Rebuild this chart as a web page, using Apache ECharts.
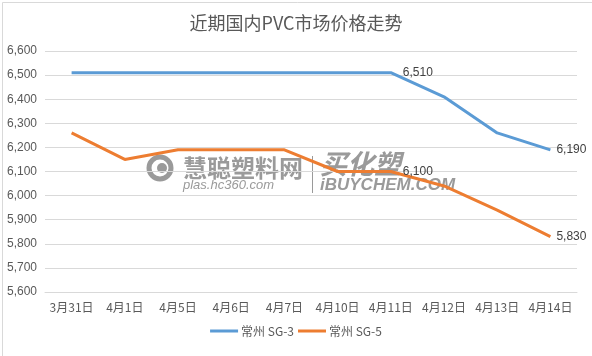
<!DOCTYPE html>
<html>
<head>
<meta charset="utf-8">
<script src="https://cdn.jsdelivr.net/npm/echarts@6/dist/echarts.min.js"></script>
<style>
html,body{margin:0;padding:0;background:#fff;}
#c{width:592px;height:356px;}
</style>
</head>
<body>
<div id="c"></div>
<script>
const categories = ['3月31日','4月1日','4月5日','4月6日','4月7日','4月10日','4月11日','4月12日','4月13日','4月14日'];
const sg3Name = '常州 SG-3';
const sg5Name = '常州 SG-5';
const sg3Values = [6510,6510,6510,6510,6510,6510,6510,6410,6260,6190];
const sg5Values = [6260,6150,6190,6190,6190,6100,6100,6040,5940,5830];
const labelIndexes = [6,9];
const yTicks = {min:5600, max:6600, step:100};

const fmt = v => String(v).replace(/\B(?=(\d{3})+(?!\d))/g, ',');
const cjk = '"Noto Sans CJK SC", "Microsoft YaHei", sans-serif';

function buildData(values){
  return values.map((v,i)=>{
    if (labelIndexes.indexOf(i) < 0) return v;
    return {value:v, label:{show:true, position:'right', distance: i===9 ? 6 : 12,
      formatter: p => fmt(p.value), color:'#404040', fontSize:12, fontFamily:'"Liberation Sans", sans-serif'}};
  });
}

const chart = echarts.init(document.getElementById('c'));
chart.setOption({
  animation:false,
  backgroundColor:'#fff',
  title:{text:'近期国内PVC市场价格走势', left:'center', top:9,
    textStyle:{color:'#595959', fontSize:18, fontWeight:'normal', fontFamily:cjk}},
  legend:{bottom:14, left:'center', itemGap:4, itemWidth:28, itemHeight:3, icon:'rect',
    textStyle:{color:'#595959', fontSize:12, fontFamily:cjk, padding:[0,0,0,-2]},
    data:[sg3Name, sg5Name]},
  grid:{left:45, right:15, top:51, bottom:64, containLabel:false},
  graphic:[
    {type:'rect', left:0, top:0, z:-10, shape:{width:591, height:355}, style:{fill:'none', stroke:'#d9d9d9', lineWidth:1}},
    {type:'circle', z:0, shape:{cx:160, cy:168, r:11}, style:{fill:'none', stroke:'#9a9a9a', lineWidth:5}},
    {type:'circle', z:0, shape:{cx:162, cy:168, r:5}, style:{fill:'#9a9a9a'}},
    {type:'text', z:0, x:183, y:168, style:{text:'慧聪塑料网', fill:'#9a9a9a', font:'bold 24px "Noto Sans CJK SC"', textVerticalAlign:'middle'}},
    {type:'text', z:0, x:183, y:185, style:{text:'plas.hc360.com', fill:'#9a9a9a', font:'italic 13px "Liberation Sans"', textVerticalAlign:'middle'}},
    {type:'rect', z:0, shape:{x:312, y:156, width:1, height:37}, style:{fill:'#9a9a9a'}},
    {type:'text', z:0, x:320, y:164, style:{text:'买化塑', fill:'#9a9a9a', font:'italic bold 27px "Noto Sans CJK SC"', textVerticalAlign:'middle'}},
    {type:'text', z:0, x:320, y:185, style:{text:'iBUYCHEM.COM', fill:'#9a9a9a', font:'italic bold 17px "Liberation Sans"', textVerticalAlign:'middle'}}
  ],
  xAxis:{type:'category', data:categories, boundaryGap:true,
    axisLine:{lineStyle:{color:'#d9d9d9'}}, axisTick:{show:false},
    axisLabel:{color:'#595959', fontSize:12, fontFamily:cjk, margin:9, interval:0}},
  yAxis:{type:'value', min:yTicks.min, max:yTicks.max, interval:yTicks.step,
    axisLine:{show:false}, axisTick:{show:false},
    axisLabel:{color:'#595959', fontSize:12, fontFamily:'"Liberation Sans", sans-serif', margin:8, formatter:v=>fmt(v)},
    splitLine:{lineStyle:{color:'#d9d9d9'}}},
  series:[
    {name:sg3Name, type:'line', data:buildData(sg3Values), showSymbol:true, symbol:'circle', symbolSize:0, z:5,
      lineStyle:{color:'#5B9BD5', width:3}, itemStyle:{color:'#5B9BD5'}, emphasis:{disabled:true}},
    {name:sg5Name, type:'line', data:buildData(sg5Values), showSymbol:true, symbol:'circle', symbolSize:0, z:5,
      lineStyle:{color:'#ED7D31', width:3}, itemStyle:{color:'#ED7D31'}, emphasis:{disabled:true}}
  ]
});
</script>
</body>
</html>
